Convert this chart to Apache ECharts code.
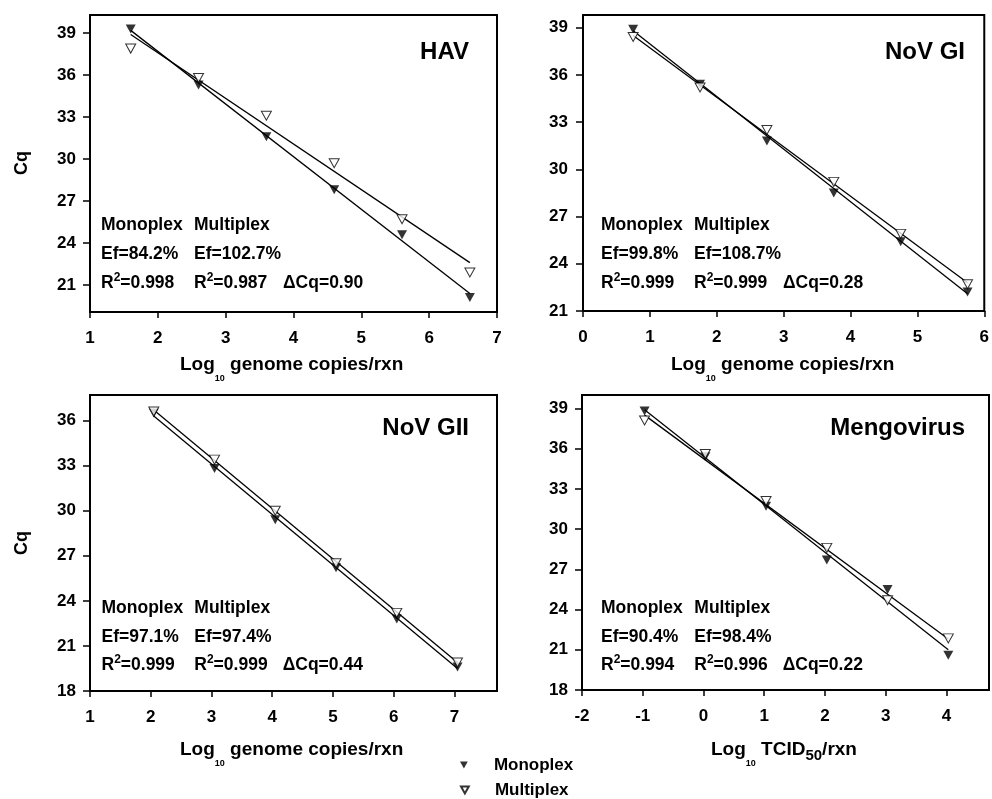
<!DOCTYPE html>
<html>
<head>
<meta charset="utf-8">
<script src="https://cdn.jsdelivr.net/npm/echarts@6/dist/echarts.min.js"></script>
<style>html,body{margin:0;padding:0;background:#fff}#main{width:992px;height:799px}</style>
</head>
<body>
<div id="main"></div>
<script>
var FONT = 'Liberation Sans, Arial, Helvetica, sans-serif';

// panel titles
var titles = ['HAV', 'NoV GI', 'NoV GII', 'Mengovirus'];

// HAV
var xHAV = [1.6, 2.6, 3.6, 4.6, 5.6, 6.6];
var monoHAV = [39.3, 35.3, 31.6, 27.8, 24.6, 20.1];
var multiHAV = [37.9, 35.8, 33.1, 29.7, 25.7, 21.9];
var fitXHAV = [1.6, 6.6];
var fitMonoHAV = [39.2, 20.4];
var fitMultiHAV = [38.9, 22.6];

// NoV GI
var xGI = [0.75, 1.75, 2.75, 3.75, 4.75, 5.75];
var monoGI = [38.9, 35.4, 31.8, 28.5, 25.4, 22.2];
var multiGI = [38.4, 35.2, 32.5, 29.2, 25.9, 22.7];
var fitXGI = [0.75, 5.75];
var fitMonoGI = [38.8, 22.1];
var fitMultiGI = [38.5, 22.8];

// NoV GII
var xGII = [2.05, 3.05, 4.05, 5.05, 6.05, 7.05];
var monoGII = [36.5, 32.8, 29.4, 26.2, 22.8, 19.6];
var multiGII = [36.6, 33.4, 30.0, 26.5, 23.2, 19.9];
var fitXGII = [2.05, 7.05];
var fitMonoGII = [36.3, 19.5];
var fitMultiGII = [36.7, 19.9];

// Mengovirus
var xMen = [-0.97, 0.03, 1.03, 2.03, 3.03, 4.03];
var monoMen = [38.8, 35.4, 31.7, 27.7, 25.5, 20.6];
var multiMen = [38.1, 35.6, 32.1, 28.6, 24.7, 21.85];
var fitXMen = [-0.97, 4.03];
var fitMonoMen = [38.9, 21.0];
var fitMultiMen = [38.5, 21.8];

// tick labels
var xTicks = [[1,2,3,4,5,6,7], [0,1,2,3,4,5,6], [1,2,3,4,5,6,7], [-2,-1,0,1,2,3,4]];
var yTicks = [[21,24,27,30,33,36,39], [21,24,27,30,33,36,39], [18,21,24,27,30,33,36], [18,21,24,27,30,33,36,39]];

// statistics text
var efMono = ['84.2', '99.8', '97.1', '90.4'];
var efMulti = ['102.7', '108.7', '97.4', '98.4'];
var r2Mono = ['0.998', '0.999', '0.999', '0.994'];
var r2Multi = ['0.987', '0.999', '0.999', '0.996'];
var dCq = ['0.90', '0.28', '0.44', '0.22'];

var xs = [xHAV, xGI, xGII, xMen];
var monos = [monoHAV, monoGI, monoGII, monoMen];
var multis = [multiHAV, multiGI, multiGII, multiMen];
var fitXs = [fitXHAV, fitXGI, fitXGII, fitXMen];
var fitMonos = [fitMonoHAV, fitMonoGI, fitMonoGII, fitMonoMen];
var fitMultis = [fitMultiHAV, fitMultiGI, fitMultiGII, fitMultiMen];

// layout
var grids = [
    {left: 90, top: 15, width: 407, height: 297},
    {left: 583, top: 15, width: 406, height: 296},
    {left: 90, top: 395, width: 407, height: 296},
    {left: 582, top: 395, width: 407, height: 295}
];
var xRange = [[1, 7], [0, 6], [1, 7.7], [-2, 4.7]];
var yRange = [[19.07, 40.3], [21, 39.8], [18, 37.7], [18, 40]];
var yMargin = [14, 15, 14, 14];

var TRI = 'path://M0,0 L10,0 L5,9 Z';

function pts(a, b) {
    return a.map(function (v, i) { return [v, b[i]]; });
}

var myChart = echarts.init(document.getElementById('main'));

var xAxis = [], yAxis = [], series = [], graphic = [];
var labelStyle = {color: '#000', fontSize: 17, fontWeight: 'bold', fontFamily: FONT};

for (var i = 0; i < 4; i++) {
    grids[i].show = true;
    grids[i].borderColor = '#000';
    grids[i].borderWidth = 2;

    xAxis.push({
        gridIndex: i, type: 'value', min: xRange[i][0], max: xRange[i][1],
        axisLine: {onZero: false, lineStyle: {color: '#000', width: 2}},
        axisTick: {customValues: xTicks[i], length: 6, lineStyle: {color: '#000', width: 1.5}},
        axisLabel: Object.assign({customValues: xTicks[i], margin: 18}, labelStyle),
        splitLine: {show: false}
    });
    yAxis.push({
        gridIndex: i, type: 'value', min: yRange[i][0], max: yRange[i][1],
        axisLine: {onZero: false, lineStyle: {color: '#000', width: 2}},
        axisTick: {customValues: yTicks[i], length: 7, lineStyle: {color: '#000', width: 1.5}},
        axisLabel: Object.assign({customValues: yTicks[i], margin: yMargin[i]}, labelStyle),
        splitLine: {show: false}
    });

    series.push({
        type: 'line', xAxisIndex: i, yAxisIndex: i, symbol: 'none', silent: true,
        lineStyle: {color: '#000', width: 1.3}, data: pts(fitXs[i], fitMonos[i])
    });
    series.push({
        type: 'line', xAxisIndex: i, yAxisIndex: i, symbol: 'none', silent: true,
        lineStyle: {color: '#000', width: 1.3}, data: pts(fitXs[i], fitMultis[i])
    });
    series.push({
        name: 'Monoplex', type: 'scatter', xAxisIndex: i, yAxisIndex: i, z: 3,
        symbol: TRI, symbolSize: [10, 9],
        itemStyle: {color: '#000'}, data: pts(xs[i], monos[i])
    });
    series.push({
        name: 'Multiplex', type: 'scatter', xAxisIndex: i, yAxisIndex: i, z: 4,
        symbol: TRI, symbolSize: [10, 9],
        itemStyle: {color: '#fff', borderColor: '#000', borderWidth: 1}, data: pts(xs[i], multis[i])
    });
}

// text blocks
var bold17 = {fontSize: 17.5, fontWeight: 'bold', fontFamily: FONT, fill: '#000', lineHeight: 22};
var supSt = {fontSize: 12, fontWeight: 'bold', fontFamily: FONT, fill: '#000', lineHeight: 12, verticalAlign: 'top'};

function txt(x, y, text, rich, align, size) {
    return {
        type: 'text', x: x, y: y, silent: true,
        style: {
            text: text, rich: rich || {},
            fill: '#000', fontSize: size || 17.5, fontWeight: 'bold', fontFamily: FONT,
            align: align || 'left', verticalAlign: 'middle'
        }
    };
}

var statPos = [
    {x: [101, 194, 283], y: [225, 254, 283]},
    {x: [601, 694, 783], y: [225.5, 254, 282.7]},
    {x: [101.5, 194.3, 282.7], y: [608.3, 636.7, 665]},
    {x: [601, 694.3, 782.7], y: [607.7, 636.7, 665]}
];
var titlePos = [[469, 52], [965, 52], [469, 428], [965, 428]];
var r2Rich = {b: bold17, p: supSt};

for (var i = 0; i < 4; i++) {
    var p = statPos[i];
    graphic.push(txt(p.x[0], p.y[0], 'Monoplex'));
    graphic.push(txt(p.x[1], p.y[0], 'Multiplex'));
    graphic.push(txt(p.x[0], p.y[1], 'Ef=' + efMono[i] + '%'));
    graphic.push(txt(p.x[1], p.y[1], 'Ef=' + efMulti[i] + '%'));
    graphic.push(txt(p.x[0], p.y[2], '{b|R}{p|2}{b|=' + r2Mono[i] + '}', r2Rich));
    graphic.push(txt(p.x[1], p.y[2], '{b|R}{p|2}{b|=' + r2Multi[i] + '}', r2Rich));
    graphic.push(txt(p.x[2], p.y[2], '\u0394Cq=' + dCq[i]));
    graphic.push(txt(titlePos[i][0], titlePos[i][1], titles[i], null, 'right', 24));
}

// axis names
var nameSt = {fontSize: 19, fontWeight: 'bold', fontFamily: FONT, fill: '#000', lineHeight: 36};
var subSt = {fontSize: 9, fontWeight: 'bold', fontFamily: FONT, fill: '#000', lineHeight: 10, verticalAlign: 'bottom'};
var sub50 = {fontSize: 15, fontWeight: 'bold', fontFamily: FONT, fill: '#000', height: 24, lineHeight: 24, verticalAlign: 'bottom'};
var nameRich = {b: nameSt, s: subSt, t: sub50};
var genome = '{b|Log}{s|10}{b| genome copies/rxn}';
graphic.push(txt(180, 365, genome, nameRich));
graphic.push(txt(671, 365, genome, nameRich));
graphic.push(txt(180, 750, genome, nameRich));
graphic.push(txt(711, 750, '{b|Log}{s|10}{b| TCID}{t|50}{b|/rxn}', nameRich));

// Cq
[[22, 163], [22, 543]].forEach(function (c) {
    var g = txt(c[0], c[1], 'Cq', null, 'center', 18);
    g.rotation = Math.PI / 2;
    graphic.push(g);
});

var legendText = {color: '#000', fontSize: 17, fontWeight: 'bold', fontFamily: FONT, padding: [0, 0, 0, 21], lineHeight: 18};

var option = {
    backgroundColor: '#fff',
    animation: false,
    grid: grids,
    xAxis: xAxis,
    yAxis: yAxis,
    legend: [{
        left: 460, top: 756, padding: 0, itemWidth: 8, itemHeight: 7, selectedMode: false,
        data: [{name: 'Monoplex', icon: TRI}], textStyle: legendText
    }, {
        left: 460, top: 781, padding: 0, itemWidth: 8, itemHeight: 7, selectedMode: false,
        data: [{name: 'Multiplex', icon: TRI}], textStyle: legendText
    }],
    graphic: graphic,
    series: series
};

myChart.setOption(option);
</script>
</body>
</html>
